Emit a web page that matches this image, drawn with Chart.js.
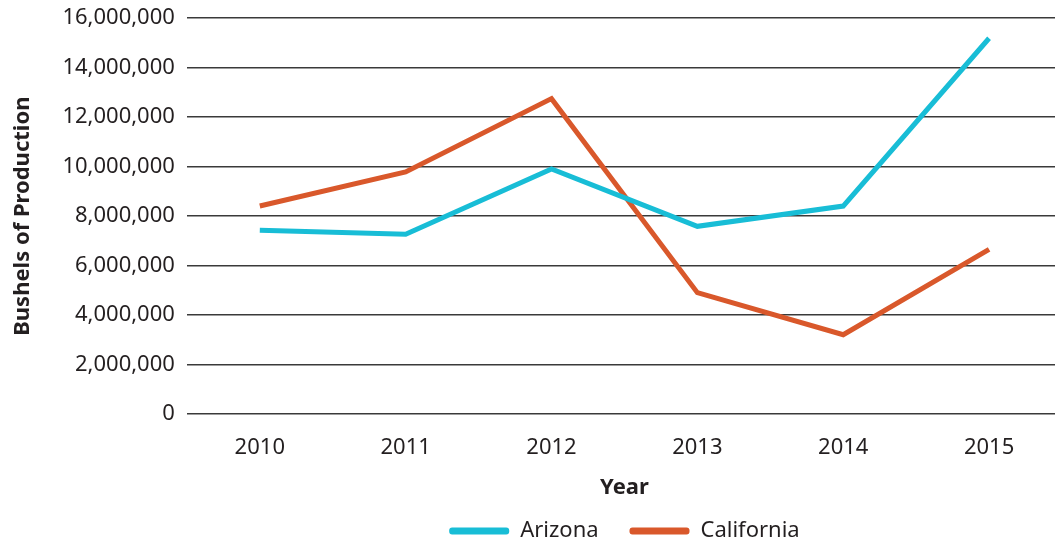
<!DOCTYPE html>
<html>
<head>
<meta charset="utf-8">
<script src="https://cdn.jsdelivr.net/npm/chart.js@4"></script>
<style>
  html, body { margin: 0; padding: 0; background: #fff; overflow: hidden; }
  #wrap { width: 1062px; height: 552px; margin-top: -7px; }
</style>
</head>
<body>
<div id="wrap"><canvas id="productionChart"></canvas></div>
<script>
// chart data
const years = ['2010', '2011', '2012', '2013', '2014', '2015'];
const arizona = [7430000, 7270000, 9910000, 7590000, 8410000, 15190000];
const california = [8410000, 9790000, 12750000, 4910000, 3210000, 6660000];
const yTicks = [0, 2000000, 4000000, 6000000, 8000000, 10000000, 12000000, 14000000, 16000000];

const textColor = '#231f20';
const font = 'Noto Sans';

new Chart(document.getElementById('productionChart'), {
    type: 'line',
    data: {
        labels: years,
        datasets: [{
            label: 'Arizona',
            data: arizona,
            borderColor: '#18bdd6',
            backgroundColor: '#18bdd6',
            borderWidth: 5,
            pointRadius: 0,
            tension: 0
        }, {
            label: 'California',
            data: california,
            borderColor: '#d9582b',
            backgroundColor: '#d9582b',
            borderWidth: 5,
            pointRadius: 0,
            tension: 0
        }]
    },
    options: {
        responsive: true,
        maintainAspectRatio: false,
        animation: false,
        layout: { padding: { top: 0, left: 6, right: 0, bottom: -7 } },
        scales: {
            x: {
                offset: true,
                grid: { display: false },
                border: { display: false },
                ticks: { color: textColor, font: { family: font, size: 22 }, padding: 12 },
                title: {
                    display: true,
                    text: 'Year',
                    color: textColor,
                    font: { family: font, size: 22, weight: 'bold' },
                    padding: { top: 2, bottom: 11 }
                }
            },
            y: {
                min: 0,
                max: 16000000,
                afterBuildTicks: function(axis) {
                    axis.ticks = yTicks.map(v => ({ value: v }));
                },
                grid: { color: '#3a3a3a', lineWidth: 1.5, drawTicks: false },
                border: { display: false },
                ticks: {
                    color: textColor,
                    font: { family: font, size: 22 },
                    padding: 12,
                    callback: function(value) {
                        return value.toLocaleString('en-US');
                    }
                },
                title: {
                    display: true,
                    text: 'Bushels of Production',
                    color: textColor,
                    font: { family: font, size: 22, weight: 'bold' },
                    padding: { bottom: 14 }
                }
            }
        },
        plugins: {
            legend: {
                position: 'bottom',
                fullSize: false,
                labels: {
                    color: textColor,
                    font: { family: font, size: 22 },
                    boxWidth: 60,
                    boxHeight: 7,
                    useBorderRadius: true,
                    borderRadius: 3,
                    padding: 8,
                    generateLabels: function(chart) {
                        const items = Chart.defaults.plugins.legend.labels.generateLabels(chart);
                        items.forEach((item, i) => {
                            item.lineWidth = 0;
                            // widen the gap between legend entries
                            if (i < items.length - 1) item.text += '    ';
                        });
                        return items;
                    }
                }
            },
            tooltip: { enabled: false }
        }
    }
});
</script>
</body>
</html>
